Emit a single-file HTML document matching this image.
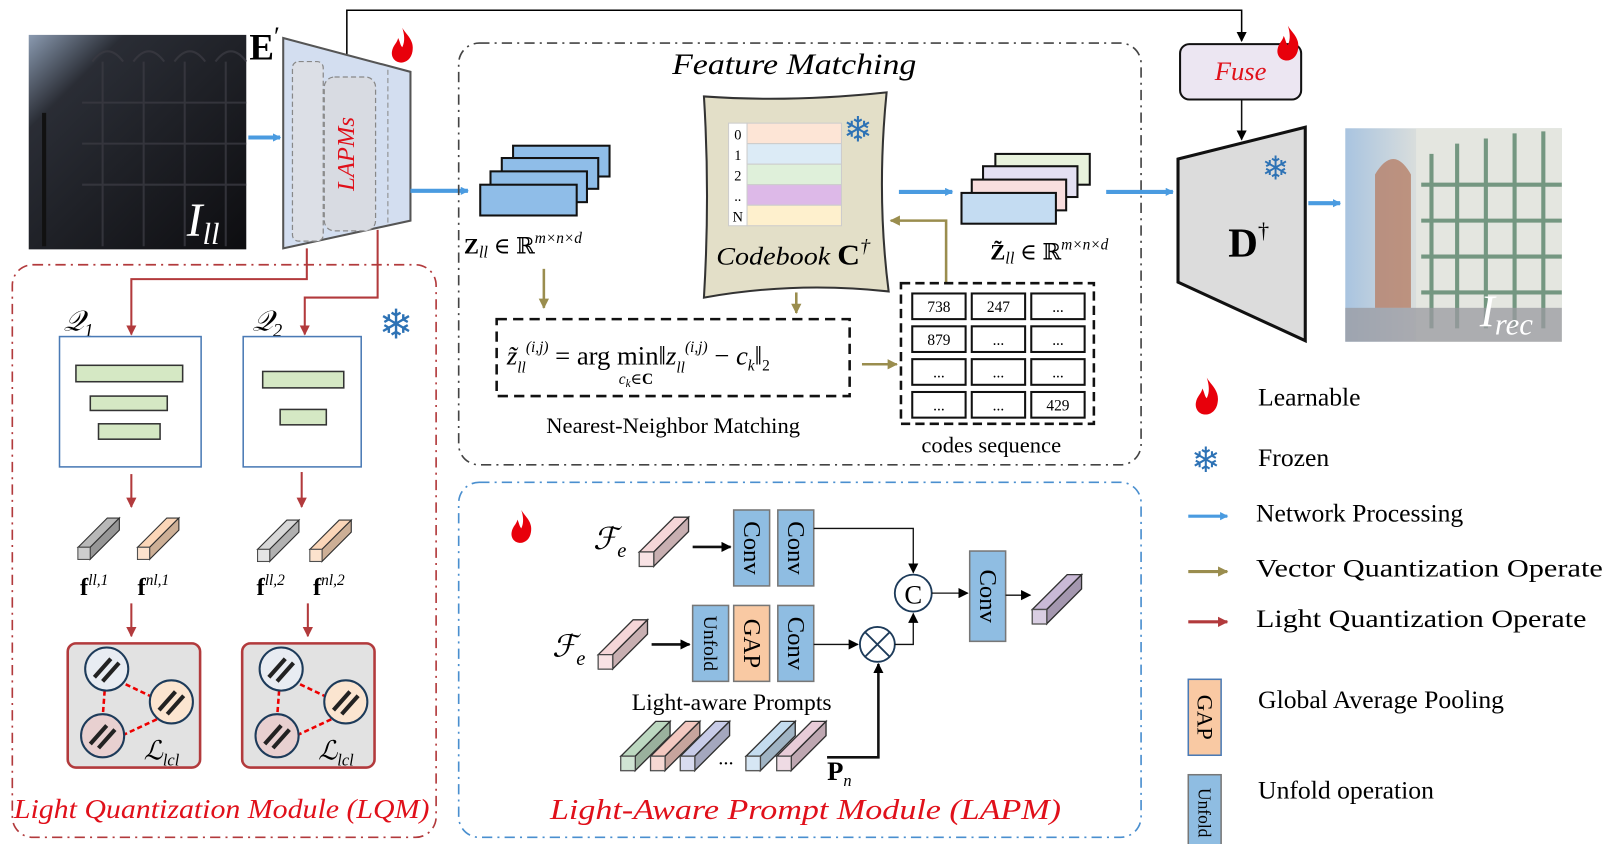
<!DOCTYPE html>
<html><head><meta charset="utf-8"><style>
html,body{margin:0;padding:0;background:#fff}
svg{display:block}
text{font-family:"Liberation Serif","DejaVu Serif",serif}
</style></head><body>
<svg width="1609" height="844" viewBox="0 0 1568 822.5" preserveAspectRatio="none" xmlns="http://www.w3.org/2000/svg">
<defs>
<marker id="ab" markerWidth="8" markerHeight="8" refX="7" refY="4" orient="auto" markerUnits="userSpaceOnUse"><path d="M0,0 L8,4 L0,8 Z" fill="#4a9be0"/></marker>
<marker id="ak" markerWidth="10" markerHeight="10" refX="9" refY="5" orient="auto" markerUnits="userSpaceOnUse"><path d="M0,0 L10,5 L0,10 Z" fill="#000"/></marker>
<marker id="ar" markerWidth="10" markerHeight="10" refX="9" refY="5" orient="auto" markerUnits="userSpaceOnUse"><path d="M0,0 L10,5 L0,10 Z" fill="#b23a3c"/></marker>
<marker id="ao" markerWidth="10" markerHeight="10" refX="9" refY="5" orient="auto" markerUnits="userSpaceOnUse"><path d="M0,0 L10,5 L0,10 Z" fill="#9a8d4e"/></marker>
<symbol id="cub" viewBox="0 0 50 48" overflow="visible">
<polygon points="0,34 34,0 48,0 14,34" fill="currentColor" stroke="#333" stroke-width="1.3"/>
<polygon points="14,34 48,0 48,14 14,48" fill="currentColor" stroke="#333" stroke-width="1.3"/>
<polygon points="14,34 48,0 48,14 14,48" fill="#000" opacity="0.18"/>
<rect x="0" y="34" width="14" height="14" fill="currentColor" stroke="#333" stroke-width="1.3"/>
<rect x="0" y="34" width="14" height="14" fill="#fff" opacity="0.3"/>
</symbol>
<symbol id="flame" viewBox="0 0 22 34" overflow="visible">
<path d="M11 0 C15 7,23 12,21 23 C20 30,15 34,10 34 C4 34,0 29,1 23 C2 17,6 15,7 10 C9 14,9 17,11 19 C14 13,13 6,11 0 Z" fill="#e8000b"/>
</symbol>
<linearGradient id="dark" x1="0" y1="0" x2="1" y2="1"><stop offset="0" stop-color="#8a9ab0"/><stop offset="0.22" stop-color="#2a2d35"/><stop offset="1" stop-color="#0d0d10"/></linearGradient>
<linearGradient id="bright" x1="0" y1="0" x2="1" y2="0"><stop offset="0" stop-color="#a9c4e0"/><stop offset="0.35" stop-color="#dcdfdc"/><stop offset="1" stop-color="#c9d2c9"/></linearGradient>
</defs>

<polyline points="338,55 338,10 1210,10 1210,40" fill="none" stroke="#000" stroke-width="1.5" marker-end="url(#ak)"/>

<rect x="28" y="34" width="212" height="209" fill="url(#dark)"/>
<g stroke="#3a3a42" stroke-width="2" fill="none" opacity="0.8">
<path d="M90 60 Q105 40 120 60 M130 60 Q145 40 160 60 M170 60 Q185 40 200 60 M210 60 Q225 40 240 60"/>
<path d="M80 100 H240 M80 140 H240 M80 180 H240"/>
<path d="M100 60 V240 M140 60 V240 M180 60 V240 M220 60 V240"/>
</g>
<line x1="43" y1="110" x2="43" y2="240" stroke="#111" stroke-width="4"/>
<text x="182" y="230" font-size="46" font-style="italic" fill="#fff">I<tspan font-size="30" dy="8">ll</tspan></text>
<line x1="242" y1="134" x2="273" y2="134" stroke="#4a9be0" stroke-width="4" marker-end="url(#ab)"/>

<polygon points="276,37 400,70 400,215 276,242" fill="#d3def0" stroke="#555" stroke-width="2"/>
<rect x="285" y="60" width="30" height="175" rx="6" fill="#dcdfe6" stroke="#888" stroke-dasharray="5,3" stroke-width="1.2"/>
<rect x="316" y="75" width="50" height="150" rx="10" fill="#d8dbe2" stroke="#888" stroke-dasharray="5,3" stroke-width="1.2"/>
<line x1="378" y1="68" x2="378" y2="218" stroke="#888" stroke-dasharray="5,3"/>
<text transform="translate(345,150) rotate(-90)" text-anchor="middle" font-size="24" font-style="italic" fill="#e0101a">LAPMs</text>
<text x="243" y="58" font-size="36" font-weight="bold">E<tspan font-size="26" dy="-14" font-weight="normal">′</tspan></text>
<use href="#flame" x="381" y="27" width="22" height="34"/>
<line x1="400" y1="186" x2="456" y2="186" stroke="#4a9be0" stroke-width="4" marker-end="url(#ab)"/>

<polyline points="299,242 299,272 128,272 128,326" fill="none" stroke="#b23a3c" stroke-width="2" marker-end="url(#ar)"/>
<polyline points="368,224 368,290 297,290 297,326" fill="none" stroke="#b23a3c" stroke-width="2" marker-end="url(#ar)"/>

<rect x="12" y="258" width="413" height="558" rx="20" fill="none" stroke="#b23a3c" stroke-width="1.6" stroke-dasharray="10,5,2,5"/>
<text x="62" y="322" font-size="28" font-style="italic">𝒬<tspan font-size="18" dy="6">1</tspan></text>
<text x="246" y="322" font-size="28" font-style="italic">𝒬<tspan font-size="18" dy="6">2</tspan></text>
<text x="386" y="330" font-size="40" fill="#2d72b5" text-anchor="middle">❄</text>
<rect x="58" y="328" width="138" height="127" fill="#fff" stroke="#4a7ab5" stroke-width="1.5"/>
<rect x="74" y="356" width="104" height="16" fill="#d5e8c4" stroke="#333" stroke-width="1.5"/>
<rect x="88" y="386" width="75" height="14" fill="#d5e8c4" stroke="#333" stroke-width="1.5"/>
<rect x="96" y="413" width="60" height="15" fill="#d5e8c4" stroke="#333" stroke-width="1.5"/>
<rect x="237" y="328" width="115" height="127" fill="#fff" stroke="#4a7ab5" stroke-width="1.5"/>
<rect x="256" y="362" width="79" height="16" fill="#d5e8c4" stroke="#333" stroke-width="1.5"/>
<rect x="273" y="399" width="45" height="15" fill="#d5e8c4" stroke="#333" stroke-width="1.5"/>
<line x1="128" y1="462" x2="128" y2="494" stroke="#b23a3c" stroke-width="2" marker-end="url(#ar)"/>
<line x1="294" y1="460" x2="294" y2="494" stroke="#b23a3c" stroke-width="2" marker-end="url(#ar)"/>
<use href="#cub" x="76" y="503" width="42" height="44" style="color:#b8b8b8"/>
<use href="#cub" x="134" y="503" width="42" height="44" style="color:#fbd6b8"/>
<use href="#cub" x="251" y="505" width="42" height="44" style="color:#d8d8d8"/>
<use href="#cub" x="302" y="505" width="42" height="44" style="color:#fbd6b8"/>
<text x="78" y="580" font-size="24" font-weight="bold">f<tspan font-size="15" dy="-10" font-weight="normal" font-style="italic">ll,1</tspan></text>
<text x="134" y="580" font-size="24" font-weight="bold">f<tspan font-size="15" dy="-10" font-weight="normal" font-style="italic">nl,1</tspan></text>
<text x="250" y="580" font-size="24" font-weight="bold">f<tspan font-size="15" dy="-10" font-weight="normal" font-style="italic">ll,2</tspan></text>
<text x="305" y="580" font-size="24" font-weight="bold">f<tspan font-size="15" dy="-10" font-weight="normal" font-style="italic">nl,2</tspan></text>
<line x1="128" y1="588" x2="128" y2="620" stroke="#b23a3c" stroke-width="2" marker-end="url(#ar)"/>
<line x1="300" y1="588" x2="300" y2="620" stroke="#b23a3c" stroke-width="2" marker-end="url(#ar)"/>
<g id="loss1">
<rect x="66" y="627" width="129" height="121" rx="8" fill="#e2e2e2" stroke="#b23a3c" stroke-width="2.5"/>
<line x1="108" y1="660" x2="150" y2="680" stroke="#e00" stroke-width="2.5" stroke-dasharray="5,3"/>
<line x1="102" y1="673" x2="100" y2="700" stroke="#e00" stroke-width="2.5" stroke-dasharray="5,3"/>
<line x1="112" y1="720" x2="155" y2="700" stroke="#e00" stroke-width="2.5" stroke-dasharray="5,3"/>
<circle cx="104" cy="652" r="21" fill="#e8ecf2" stroke="#1d3b5a" stroke-width="2"/>
<circle cx="167" cy="684" r="21" fill="#fbe5d0" stroke="#1d3b5a" stroke-width="2"/>
<circle cx="100" cy="717" r="21" fill="#e8d0d0" stroke="#1d3b5a" stroke-width="2"/>
<path d="M92 660 l16 -18 M100 664 l16 -18 M155 692 l16 -18 M163 696 l16 -18 M88 725 l16 -18 M96 729 l16 -18" stroke="#222" stroke-width="4"/>
<text x="140" y="740" font-size="26" font-style="italic">ℒ<tspan font-size="16" dy="6">lcl</tspan></text>
</g>
<use href="#loss1" x="170" y="0"/>
<text x="216" y="797" font-size="27" font-style="italic" fill="#e0101a" text-anchor="middle" textLength="405" lengthAdjust="spacingAndGlyphs">Light Quantization Module (LQM)</text>

<rect x="447" y="42" width="665" height="411" rx="20" fill="none" stroke="#444" stroke-width="1.6" stroke-dasharray="10,5,2,5"/>
<text x="774" y="72" font-size="29" font-style="italic" text-anchor="middle" textLength="238" lengthAdjust="spacingAndGlyphs">Feature Matching</text>
<g stroke="#111" stroke-width="2" fill="#8fbde8">
<rect x="500" y="142" width="94" height="30"/>
<rect x="489" y="154" width="94" height="30"/>
<rect x="478" y="167" width="94" height="30"/>
<rect x="468" y="180" width="94" height="30"/>
</g>
<text x="452" y="247" font-size="22"><tspan font-weight="bold">Z</tspan><tspan font-style="italic" font-size="16" dy="4">ll</tspan><tspan dy="-4"> ∈ ℝ</tspan><tspan font-size="15" dy="-10" font-style="italic">m×n×d</tspan></text>
<line x1="530" y1="262" x2="530" y2="300" stroke="#9a8d4e" stroke-width="2.5" marker-end="url(#ao)"/>
<rect x="484" y="311" width="344" height="75" fill="none" stroke="#111" stroke-width="2.5" stroke-dasharray="10,6"/>
<text x="494" y="355" font-size="26" font-style="italic">z̃<tspan font-size="15" dy="8">ll</tspan><tspan font-size="15" dy="-20">(i,j)</tspan><tspan font-style="normal" dy="12"> = arg min‖</tspan>z<tspan font-size="15" dy="8">ll</tspan><tspan font-size="15" dy="-20">(i,j)</tspan><tspan font-style="normal" dy="12"> − </tspan>c<tspan font-size="15" dy="6">k</tspan><tspan font-style="normal" dy="-6">‖</tspan><tspan font-size="15" font-style="normal" dy="6">2</tspan></text>
<text x="603" y="374" font-size="15" font-style="italic">c<tspan font-size="11" dy="3">k</tspan><tspan dy="-3" font-style="normal">∈<tspan font-weight="bold">C</tspan></tspan></text>
<text x="656" y="422" font-size="22" text-anchor="middle">Nearest-Neighbor Matching</text>

<path d="M686 94 Q770 100 864 90 Q854 190 866 284 Q775 274 686 290 Q692 190 686 94 Z" fill="#e3dfc8" stroke="#333" stroke-width="2"/>
<g stroke="#ccc" stroke-width="1">
<rect x="710" y="120" width="18" height="100" fill="#fff"/>
<rect x="728" y="120" width="92" height="20" fill="#fde5d6"/>
<rect x="728" y="140" width="92" height="20" fill="#dcebf6"/>
<rect x="728" y="160" width="92" height="20" fill="#dff0da"/>
<rect x="728" y="180" width="92" height="20" fill="#ddb9e8"/>
<rect x="728" y="200" width="92" height="20" fill="#fef0cd"/>
</g>
<g font-size="14" text-anchor="middle"><text x="719" y="136">0</text><text x="719" y="156">1</text><text x="719" y="176">2</text><text x="719" y="196">..</text><text x="719" y="216">N</text></g>
<text x="836" y="138" font-size="34" fill="#2d72b5" text-anchor="middle">❄</text>
<text x="698" y="258" font-size="25" font-style="italic" textLength="150" lengthAdjust="spacingAndGlyphs">Codebook <tspan font-style="normal" font-weight="bold" font-size="28">C</tspan><tspan font-size="18" dy="-12">†</tspan></text>
<line x1="776" y1="285" x2="776" y2="305" stroke="#9a8d4e" stroke-width="2.5" marker-end="url(#ao)"/>
<line x1="840" y1="355" x2="874" y2="355" stroke="#9a8d4e" stroke-width="2.5" marker-end="url(#ao)"/>
<polyline points="922,276 922,215 868,215" fill="none" stroke="#9a8d4e" stroke-width="2.5" marker-end="url(#ao)"/>
<line x1="876" y1="187" x2="928" y2="187" stroke="#4a9be0" stroke-width="4" marker-end="url(#ab)"/>

<g stroke="#111" stroke-width="2">
<rect x="970" y="150" width="92" height="30" fill="#e8f2dc"/>
<rect x="958" y="162" width="92" height="30" fill="#e4e0f2"/>
<rect x="947" y="175" width="92" height="30" fill="#f9dede"/>
<rect x="937" y="188" width="92" height="30" fill="#c4dcf2"/>
</g>
<text x="965" y="253" font-size="22"><tspan font-weight="bold">Z̃</tspan><tspan font-style="italic" font-size="16" dy="4">ll</tspan><tspan dy="-4"> ∈ ℝ</tspan><tspan font-size="15" dy="-10" font-style="italic">m×n×d</tspan></text>
<line x1="1078" y1="187" x2="1143" y2="187" stroke="#4a9be0" stroke-width="4" marker-end="url(#ab)"/>

<rect x="878" y="276" width="188" height="137" fill="none" stroke="#111" stroke-width="2.5" stroke-dasharray="9,5"/>
<g stroke="#111" stroke-width="2" fill="#fff">
<rect x="889" y="286" width="52" height="25"/><rect x="947" y="286" width="52" height="25"/><rect x="1005" y="286" width="52" height="25"/>
<rect x="889" y="318" width="52" height="25"/><rect x="947" y="318" width="52" height="25"/><rect x="1005" y="318" width="52" height="25"/>
<rect x="889" y="350" width="52" height="25"/><rect x="947" y="350" width="52" height="25"/><rect x="1005" y="350" width="52" height="25"/>
<rect x="889" y="382" width="52" height="25"/><rect x="947" y="382" width="52" height="25"/><rect x="1005" y="382" width="52" height="25"/>
</g>
<g font-size="15" text-anchor="middle">
<text x="915" y="304">738</text><text x="973" y="304">247</text><text x="1031" y="304">...</text>
<text x="915" y="336">879</text><text x="973" y="336">...</text><text x="1031" y="336">...</text>
<text x="915" y="368">...</text><text x="973" y="368">...</text><text x="1031" y="368">...</text>
<text x="915" y="400">...</text><text x="973" y="400">...</text><text x="1031" y="400">429</text>
</g>
<text x="966" y="441" font-size="22" text-anchor="middle">codes sequence</text>

<rect x="1150" y="43" width="118" height="54" rx="9" fill="#ece6f2" stroke="#111" stroke-width="2"/>
<text x="1209" y="78" font-size="26" font-style="italic" fill="#e0101a" text-anchor="middle">Fuse</text>
<use href="#flame" x="1243" y="25" width="24" height="34"/>
<line x1="1210" y1="97" x2="1210" y2="136" stroke="#111" stroke-width="1.5" marker-end="url(#ak)"/>
<polygon points="1148,155 1272,124 1272,332 1148,275" fill="#dcdcdc" stroke="#111" stroke-width="3"/>
<text x="1243" y="175" font-size="32" fill="#2d72b5" text-anchor="middle">❄</text>
<text x="1197" y="250" font-size="40" font-weight="bold">D<tspan font-size="22" dy="-18" font-weight="normal">†</tspan></text>
<line x1="1275" y1="198" x2="1306" y2="198" stroke="#4a9be0" stroke-width="4" marker-end="url(#ab)"/>

<rect x="1311" y="125" width="211" height="208" fill="url(#bright)"/>
<polygon points="1380,125 1522,125 1522,333 1380,333" fill="#e4e6e0"/>
<g stroke="#4f7d62" stroke-width="4" opacity="0.75">
<path d="M1395 150 V320 M1420 140 V320 M1448 135 V320 M1476 130 V320 M1504 128 V320"/>
<path d="M1385 180 H1522 M1385 215 H1522 M1385 250 H1522 M1385 285 H1522"/>
</g>
<path d="M1340 170 Q1358 140 1375 170 V300 H1340 Z" fill="#b78068" opacity="0.8"/>
<rect x="1311" y="300" width="211" height="33" fill="#9a9aa0" opacity="0.75"/>
<text x="1442" y="318" font-size="44" font-style="italic" fill="#fff">I<tspan font-size="30" dy="8">rec</tspan></text>

<rect x="447" y="470" width="665" height="346" rx="20" fill="none" stroke="#4a8fcf" stroke-width="1.6" stroke-dasharray="10,5,2,5"/>
<use href="#flame" x="497" y="497" width="22" height="32"/>
<text x="578" y="535" font-size="30" font-style="italic">ℱ<tspan font-size="20" dy="8">e</tspan></text>
<use href="#cub" x="623" y="504" width="50" height="48" style="color:#f5d6d8"/>
<line x1="675" y1="533" x2="712" y2="533" stroke="#111" stroke-width="2.5" marker-end="url(#ak)"/>
<g stroke="#777" stroke-width="1.5">
<rect x="715" y="497" width="35" height="74" fill="#8fbde2"/>
<rect x="758" y="497" width="35" height="74" fill="#8fbde2"/>
<rect x="675" y="590" width="35" height="74" fill="#8fbde2"/>
<rect x="715" y="590" width="35" height="74" fill="#f9c9a3"/>
<rect x="758" y="590" width="35" height="74" fill="#8fbde2"/>
<rect x="945" y="537" width="35" height="88" fill="#8fbde2"/>
</g>
<g font-size="24" text-anchor="middle">
<text transform="translate(725,534) rotate(90)">Conv</text>
<text transform="translate(768,534) rotate(90)">Conv</text>
<text transform="translate(686,627) rotate(90)" font-size="19">Unfold</text>
<text transform="translate(725,627) rotate(90)">GAP</text>
<text transform="translate(768,627) rotate(90)">Conv</text>
<text transform="translate(955,581) rotate(90)">Conv</text>
</g>
<polyline points="793,515 890,515 890,558" fill="none" stroke="#111" stroke-width="1.3" marker-end="url(#ak)"/>
<circle cx="890" cy="578" r="18" fill="#fff" stroke="#1d3b5a" stroke-width="1.8"/>
<text x="890" y="588" font-size="26" text-anchor="middle">C</text>
<text x="538" y="640" font-size="30" font-style="italic">ℱ<tspan font-size="20" dy="8">e</tspan></text>
<use href="#cub" x="583" y="604" width="50" height="48" style="color:#f5d6d8"/>
<line x1="635" y1="628" x2="672" y2="628" stroke="#111" stroke-width="2.5" marker-end="url(#ak)"/>
<line x1="793" y1="628" x2="836" y2="628" stroke="#111" stroke-width="1.3" marker-end="url(#ak)"/>
<circle cx="855" cy="628" r="17" fill="#fff" stroke="#1d3b5a" stroke-width="1.8"/>
<path d="M843 616 L867 640 M867 616 L843 640" stroke="#1d3b5a" stroke-width="1.8"/>
<polyline points="872,628 890,628 890,598" fill="none" stroke="#111" stroke-width="1.3" marker-end="url(#ak)"/>
<line x1="908" y1="578" x2="943" y2="578" stroke="#111" stroke-width="1.3" marker-end="url(#ak)"/>
<line x1="980" y1="580" x2="1004" y2="580" stroke="#111" stroke-width="1.3" marker-end="url(#ak)"/>
<use href="#cub" x="1005" y="560" width="52" height="48" style="color:#c9b9d6"/>
<text x="713" y="692" font-size="23" text-anchor="middle">Light-aware Prompts</text>
<use href="#cub" x="605" y="703" width="50" height="48" style="color:#bcd8c0"/>
<use href="#cub" x="634" y="703" width="50" height="48" style="color:#f3c8c0"/>
<use href="#cub" x="663" y="703" width="50" height="48" style="color:#c8cce8"/>
<text x="700" y="745" font-size="20">...</text>
<use href="#cub" x="727" y="703" width="50" height="48" style="color:#c4dcef"/>
<use href="#cub" x="757" y="703" width="50" height="48" style="color:#e8ccd8"/>
<polyline points="806,738 856,738 856,647" fill="none" stroke="#111" stroke-width="2.5" marker-end="url(#ak)"/>
<text x="806" y="760" font-size="26" font-weight="bold">P<tspan font-size="16" font-weight="normal" font-style="italic" dy="6">n</tspan></text>
<text x="785" y="798" font-size="28" font-style="italic" fill="#e0101a" text-anchor="middle" textLength="498" lengthAdjust="spacingAndGlyphs">Light-Aware Prompt Module (LAPM)</text>

<use href="#flame" x="1164" y="368" width="24" height="36"/>
<text x="1226" y="395" font-size="25">Learnable</text>
<text x="1175" y="460" font-size="34" fill="#2d72b5" text-anchor="middle">❄</text>
<text x="1226" y="454" font-size="25">Frozen</text>
<line x1="1158" y1="503" x2="1196" y2="503" stroke="#4a9be0" stroke-width="3" marker-end="url(#ab)"/>
<text x="1224" y="508" font-size="25">Network Processing</text>
<line x1="1158" y1="557" x2="1196" y2="557" stroke="#9a8d4e" stroke-width="3" marker-end="url(#ao)"/>
<text x="1224" y="562" font-size="25" textLength="338" lengthAdjust="spacingAndGlyphs">Vector Quantization Operate</text>
<line x1="1158" y1="606" x2="1196" y2="606" stroke="#b23a3c" stroke-width="3" marker-end="url(#ar)"/>
<text x="1224" y="611" font-size="25" textLength="322" lengthAdjust="spacingAndGlyphs">Light Quantization Operate</text>
<rect x="1158" y="662" width="32" height="74" fill="#f9c9a3" stroke="#4a7ab5" stroke-width="1.5"/>
<text transform="translate(1167,699) rotate(90)" font-size="22" text-anchor="middle">GAP</text>
<text x="1226" y="690" font-size="25">Global Average Pooling</text>
<rect x="1158" y="755" width="32" height="74" fill="#8fbde2" stroke="#777" stroke-width="1.5"/>
<text transform="translate(1168,792) rotate(90)" font-size="17" text-anchor="middle">Unfold</text>
<text x="1226" y="778" font-size="25">Unfold operation</text>
</svg>
</body></html>
